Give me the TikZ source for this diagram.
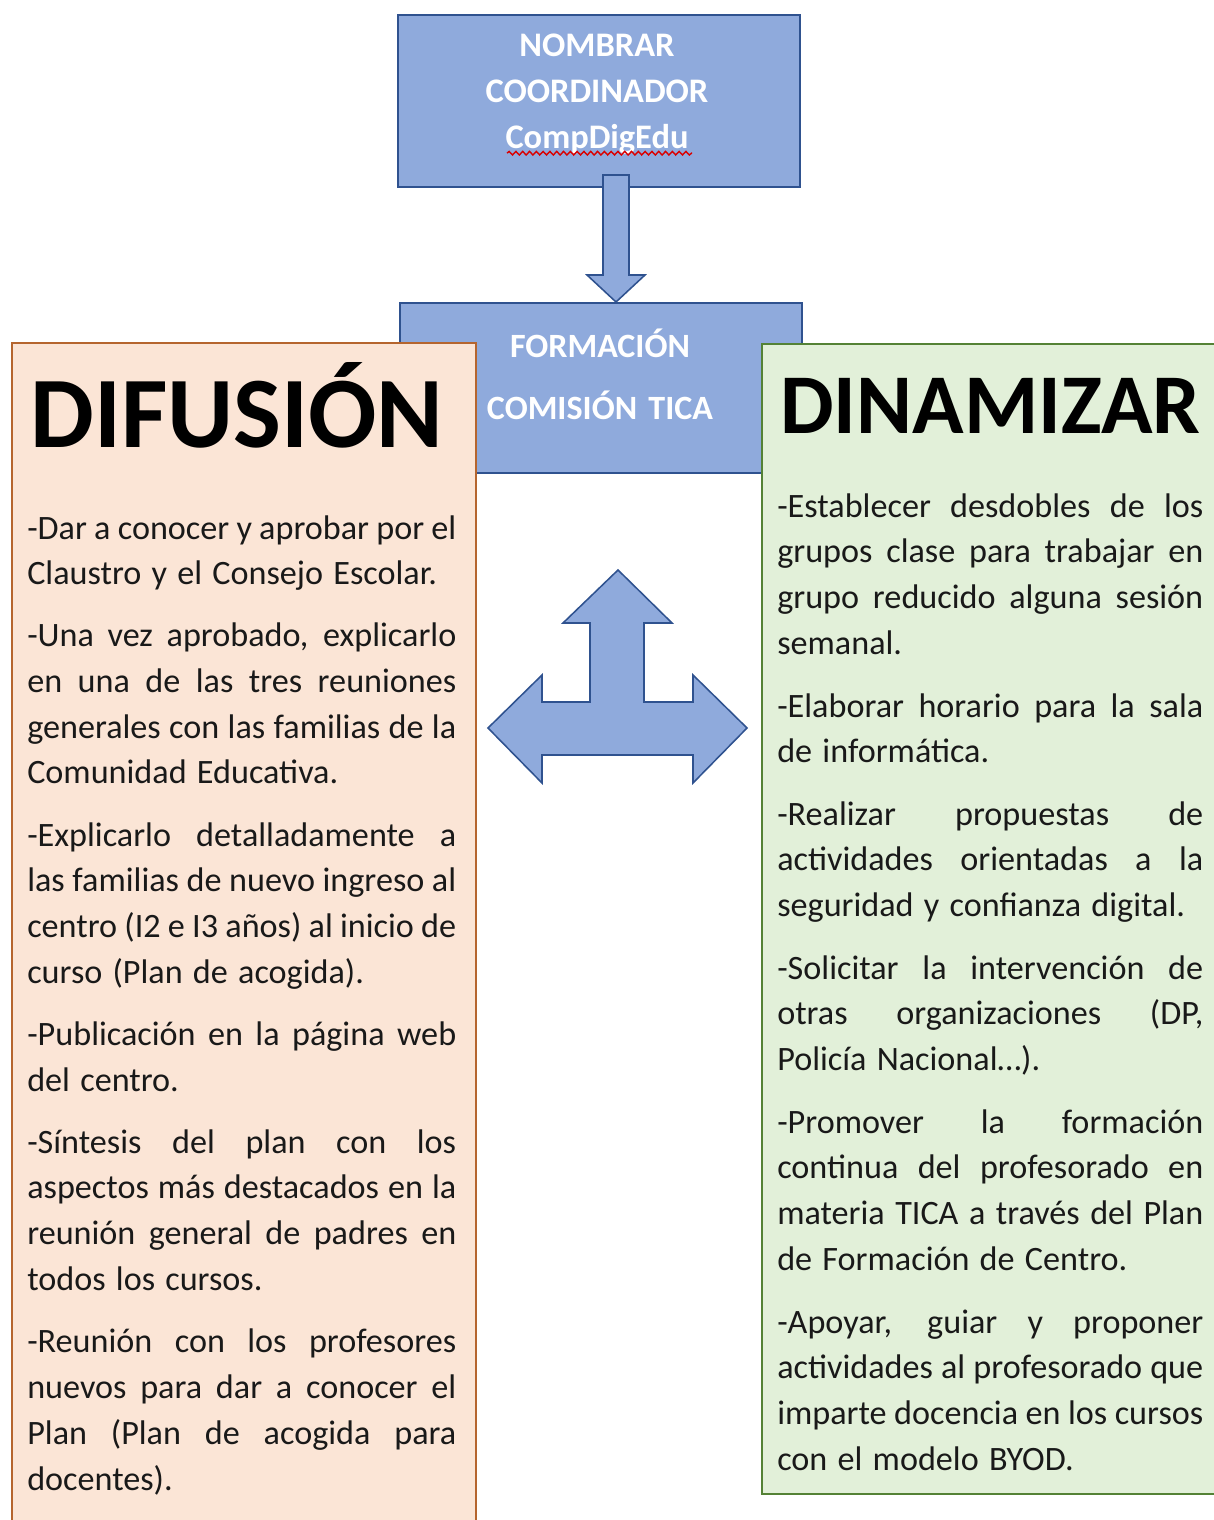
\documentclass[tikz,border=0pt]{standalone}
\usepackage{fontspec}
\setmainfont{Carlito}
\usetikzlibrary{decorations.pathmorphing}

\definecolor{azulcaja}{HTML}{8FAADC}
\definecolor{azulborde}{HTML}{2F528F}
\definecolor{naranjafondo}{HTML}{FBE5D6}
\definecolor{naranjaborde}{HTML}{B5652E}
\definecolor{verdefondo}{HTML}{E2F0D9}
\definecolor{verdeborde}{HTML}{548235}

% espacio entre palabras y linea justificada
\newcommand{\espacios}{\spaceskip=0.3em plus 2em minus 0.11em\relax}
\newcommand{\jl}[1]{\leavevmode\hbox to \hsize{#1}\\}

\tikzset{
  caja/.style={draw=azulborde, fill=azulcaja, line width=1.1pt, minimum width=10.05cm},
  flecha/.style={draw=azulborde, fill=azulcaja, line width=1.1pt, line join=miter},
  etiqueta/.style={text=white, font=\bfseries\fontsize{24.5}{32.6}\selectfont, text width=10cm, align=center, inner sep=0pt, anchor=base},
  parrafo/.style={font=\fontsize{24.3}{32.6}\selectfont, execute at begin node=\espacios, text=black!90, align=left, inner sep=0pt, anchor=base west},
  titulo/.style={text=black, inner sep=0pt, anchor=base west}
}

\begin{document}
\begin{tikzpicture}
            % Marco
            \path[use as bounding box] (0,0) rectangle (30.35,-38);
            \clip (0,0) rectangle (30.35,-38);

            % Cajas azules
            \node[caja, minimum height=4.3cm] (nombrar) at (14.975,-2.525) {};
            \node[caja, minimum height=4.25cm] (formacion) at (15.025,-9.7) {};
            \node[etiqueta] (nombrartxt) at (14.925,-1.425) {NOMBRAR\\COORDINADOR\\CompDigEdu};
            \node[etiqueta, font=\bfseries\fontsize{24.2}{44}\selectfont] (formaciontxt) at (15,-8.95) {FORMACIÓN\\COMISIÓN TICA};
            % Subrayado ondulado
            \draw[red!85!black, line width=1pt, decorate, decoration={snake, amplitude=0.045cm, segment length=0.17cm}] (12.675,-3.83) -- (17.3,-3.83);

            % Flecha hacia abajo
            \draw[flecha] (15.075,-4.375) -- (15.725,-4.375) -- (15.725,-6.875) -- (16.125,-6.875)
                -- (15.4,-7.55) -- (14.675,-6.875) -- (15.075,-6.875) -- cycle;

            % Cajas laterales
            \node[draw=naranjaborde, fill=naranjafondo, line width=1.1pt, minimum width=11.6cm, minimum height=30.45cm] (difusion) at (6.1,-23.8) {};
            \node[draw=verdeborde, fill=verdefondo, line width=1.1pt, minimum width=11.65cm, minimum height=28.75cm] (dinamizar) at (24.875,-22.975) {};

            % Flecha de tres puntas
            \draw[flecha] (15.45,-14.25) -- (16.8,-15.575) -- (16.1,-15.575) -- (16.1,-17.55)
                -- (17.325,-17.55) -- (17.325,-16.875) -- (18.675,-18.2) -- (17.325,-19.575)
                -- (17.325,-18.875) -- (13.55,-18.875) -- (13.55,-19.575) -- (12.2,-18.2)
                -- (13.55,-16.875) -- (13.55,-17.55) -- (14.75,-17.55) -- (14.75,-15.575)
                -- (14.075,-15.575) -- cycle;

            % Titulos
            \node[titulo, font=\bfseries\fontsize{72}{72}\selectfont] (diftit) at (0.75,-11.175) {DIFUSIÓN};
            \node[titulo, font=\bfseries\fontsize{60.5}{60}\selectfont] (dintit) at (19.5,-10.825) {DINAMIZAR};

            % Difusion
            \node[parrafo, text width=10.725cm] (dif1) at (0.675,-13.475) {\jl{-Dar a conocer y aprobar por el}Claustro y el Consejo Escolar.};
            \node[parrafo, text width=10.725cm] (dif2) at (0.675,-16.1625) {\jl{-Una vez aprobado, explicarlo}\jl{en una de las tres reuniones}\jl{generales con las familias de la}Comunidad Educativa.};
            \node[parrafo, text width=10.725cm] (dif3) at (0.675,-21.15) {\jl{-Explicarlo detalladamente a}\jl{las familias de nuevo ingreso al}\jl{centro (I2 e I3 años) al inicio de}curso (Plan de acogida).};
            \node[parrafo, text width=10.725cm] (dif4) at (0.675,-26.1375) {\jl{-Publicación en la página web}del centro.};
            \node[parrafo, text width=10.725cm] (dif5) at (0.675,-28.825) {\jl{-Síntesis del plan con los}\jl{aspectos más destacados en la}\jl{reunión general de padres en}todos los cursos.};
            \node[parrafo, text width=10.725cm] (dif6) at (0.675,-33.8125) {\jl{-Reunión con los profesores}\jl{nuevos para dar a conocer el}\jl{Plan (Plan de acogida para}docentes).};

            % Dinamizar
            \node[parrafo, text width=10.65cm] (din1) at (19.425,-12.925) {\jl{-Establecer desdobles de los}\jl{grupos clase para trabajar en}\jl{grupo reducido alguna sesión}semanal.};
            \node[parrafo, text width=10.65cm] (din2) at (19.425,-17.925) {\jl{-Elaborar horario para la sala}de informática.};
            \node[parrafo, text width=10.65cm] (din3) at (19.425,-20.625) {\jl{-Realizar propuestas de}\jl{actividades orientadas a la}seguridad y confianza digital.};
            \node[parrafo, text width=10.65cm] (din4) at (19.425,-24.475) {\jl{-Solicitar la intervención de}\jl{otras organizaciones (DP,}Policía Nacional…).};
            \node[parrafo, text width=10.65cm] (din5) at (19.425,-28.325) {\jl{-Promover la formación}\jl{continua del profesorado en}\jl{materia TICA a través del Plan}de Formación de Centro.};
            \node[parrafo, text width=10.65cm] (din6) at (19.425,-33.325) {\jl{-Apoyar, guiar y proponer}\jl{actividades al profesorado que}\jl{imparte docencia en los cursos}con el modelo BYOD.};
\end{tikzpicture}
\end{document}
